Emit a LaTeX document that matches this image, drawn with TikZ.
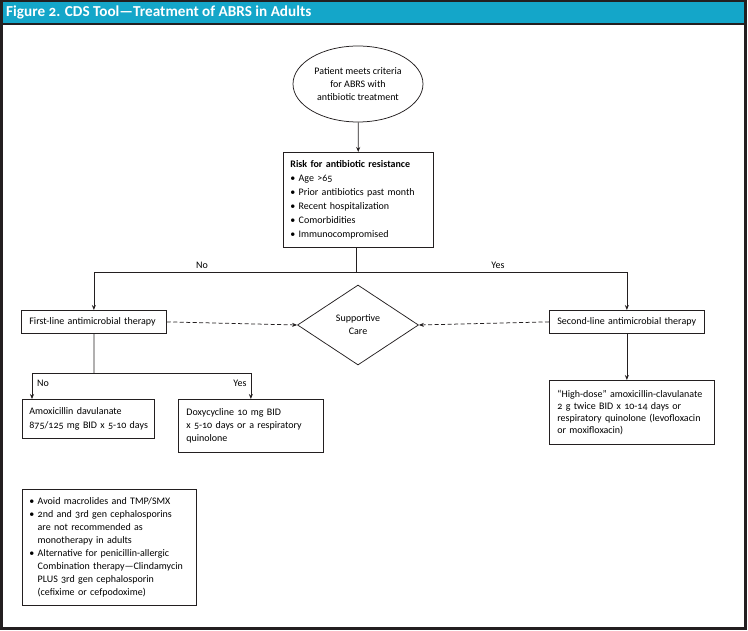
\documentclass[tikz,border=0pt]{standalone}
\usepackage{fontspec}
\setmainfont{Carlito}[Numbers=OldStyle]
\usetikzlibrary{shapes.geometric,arrows.meta}
\definecolor{bannerteal}{RGB}{20,166,201}
\definecolor{framedark}{RGB}{35,31,32}
\begin{document}
\begin{tikzpicture}[x=1pt,y=-1pt,
  every node/.style={font=\fontsize{10}{13}\selectfont, text=black},
  box/.style={draw=framedark, line width=0.75pt, inner ysep=0pt, align=left, anchor=north west},
  arr/.style={draw=framedark, line width=0.75pt, -{Stealth[length=5pt,width=4pt]}},
  darr/.style={arr, dash pattern=on 4pt off 2.5pt},
  lbl/.style={inner sep=0pt}]
\useasboundingbox (0,0) rectangle (748,631);
% frame and banner
\fill[bannerteal] (1.5,0.5) rectangle (745.5,24);
\draw[framedark, line width=3pt] (1.5,0.5) rectangle (745.5,628.5);
\draw[framedark, line width=1.2pt] (1.5,24) -- (745.5,24);
\node[anchor=west, inner sep=0pt, font=\fontsize{15.2}{17}\bfseries\selectfont, text=white] (title) at (6,12.5) {Figure 2. CDS Tool—Treatment of ABRS in Adults};

% start ellipse
\node[draw=framedark, line width=0.75pt, ellipse, minimum width=130pt, minimum height=76pt, inner sep=0pt, align=center] (start) at (358,84) {Patient meets criteria\\for ABRS with\\antibiotic treatment};

% risk box
\node[box, inner xsep=7pt, text width=136pt, minimum height=95pt, font=\fontsize{10}{14}\selectfont] (risk) at (283,152)
  {\textbf{Risk for antibiotic resistance}\\\textbullet\ Age >65\\\textbullet\ Prior antibiotics past month\\\textbullet\ Recent hospitalization\\\textbullet\ Comorbidities\\\textbullet\ Immunocompromised};
\draw[arr] (start) -- (risk);

% first / second line
\node[box, inner xsep=8pt, text width=129pt, minimum height=23pt] (first) at (21,310) {First-line antimicrobial therapy};
\node[box, inner xsep=8pt, text width=139pt, minimum height=23pt] (second) at (549,310) {Second-line antimicrobial therapy};
\coordinate (br) at (356,272);
\draw[draw=framedark, line width=0.75pt] (risk.south -| br) -- (br);
\draw[arr] (br) -| (first.north);
\draw[arr] (br) -| (second.north);
\node[lbl] (no1) at (202,265) {No};
\node[lbl] (yes1) at (498,265) {Yes};

% supportive care
\node[draw=framedark, line width=0.75pt, diamond, minimum width=121pt, minimum height=80pt, inner sep=0pt, align=center] (sc) at (358,325) {Supportive\\Care};
\draw[darr] (first.east) -- (sc.west);
\draw[darr] (second.west) -- (sc.east);

% first-line options
\node[box, inner xsep=7pt, text width=118pt, minimum height=39pt, font=\fontsize{10}{14}\selectfont] (amox) at (22,399)
  {\mbox{Amoxicillin davulanate}\\\mbox{875/125 mg BID x 5-10 days}};
\node[box, inner xsep=8pt, text width=129pt, minimum height=53pt, font=\fontsize{10}{13}\selectfont] (doxy) at (178,399)
  {Doxycycline 10 mg BID\\x 5-10 days or a respiratory\\quinolone};
\coordinate (fs) at (94,373);
\draw[draw=framedark, line width=0.75pt] (first.south) -- (fs);
\draw[arr] (fs) -| ([xshift=10pt]amox.north west);
\draw[arr] (fs) -| (doxy.north);
\node[lbl] (no2) at (43,383) {No};
\node[lbl] (yes2) at (240,383) {Yes};

% second-line option
\node[box, inner xsep=8pt, text width=149pt, minimum height=64pt, font=\fontsize{10}{12}\selectfont] (high) at (549,380)
  {“High-dose” amoxicillin-clavulanate\\2 g twice BID x 10-14 days or\\respiratory quinolone (levofloxacin\\or moxifloxacin)};
\draw[arr] (second.south) -- (high.north -| second.south);

% notes
\node[box, inner xsep=7pt, text width=160pt, minimum height=116pt, font=\fontsize{10}{13}\selectfont] (notes) at (22,489)
  {\textbullet\ Avoid macrolides and TMP/SMX\\
   \textbullet\ 2nd and 3rd gen cephalosporins\\
   \hphantom{\textbullet\ }are not recommended as\\
   \hphantom{\textbullet\ }monotherapy in adults\\
   \textbullet\ Alternative for penicillin-allergic\\
   \hphantom{\textbullet\ }Combination therapy—Clindamycin\\
   \hphantom{\textbullet\ }PLUS 3rd gen cephalosporin\\
   \hphantom{\textbullet\ }(cefixime or cefpodoxime)};
\end{tikzpicture}
\end{document}
